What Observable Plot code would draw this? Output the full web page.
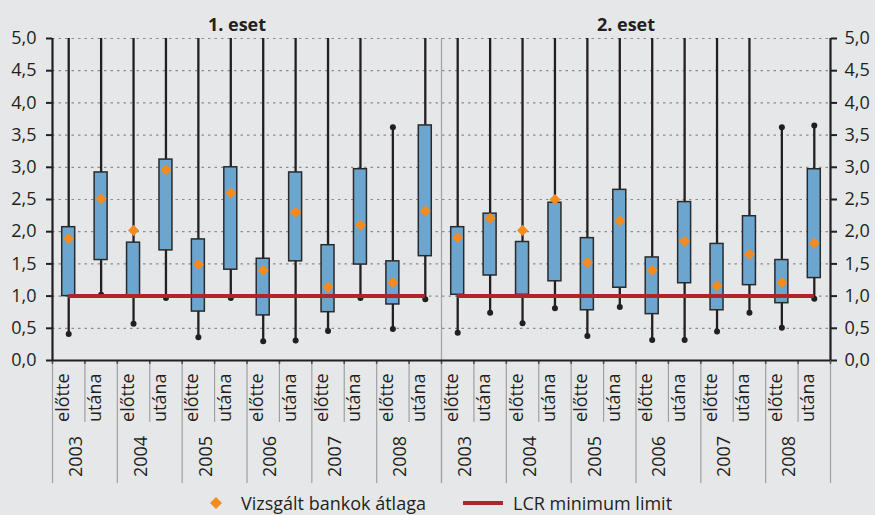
<!DOCTYPE html>
<html>
<head>
<meta charset="utf-8">
<script src="https://cdn.jsdelivr.net/npm/d3@7"></script>
<script src="https://cdn.jsdelivr.net/npm/@observablehq/plot@0.6"></script>
<style>
html, body { margin: 0; padding: 0; background: #e6e7e8; }
#wrap { position: relative; width: 875px; height: 515px; font-family: "Open Sans", sans-serif; color: #231f20; }
#chart svg { display: block; }
.leg { position: absolute; top: 491px; font-size: 18px; line-height: 24px; white-space: nowrap; }
</style>
</head>
<body>
<div id="wrap">
  <div id="chart"></div>
  <div class="leg" style="left:205px"><svg width="22" height="24" style="vertical-align:top"><path d="M11,6 L17,12 L11,18 L5,12Z" fill="#f58a1f"/></svg></div>
  <div class="leg" style="left:241px">Vizsgált bankok átlaga</div>
  <div class="leg" style="left:463px"><svg width="40" height="24" style="vertical-align:top"><rect x="0" y="10" width="40" height="4" fill="#b0242a"/></svg></div>
  <div class="leg" style="left:513px">LCR minimum limit</div>
</div>
<script>
// ---- data ----
const cases = ["1. eset", "2. eset"];
const years = ["2003", "2004", "2005", "2006", "2007", "2008"];
const timings = ["előtte", "utána"];

// order within a case: 2003 előtte, 2003 utána, 2004 előtte, ...
const q3_case1   = [2.07, 2.92, 1.83, 3.12, 1.88, 3.00, 1.58, 2.92, 1.79, 2.97, 1.54, 3.65];
const q1_case1   = [1.00, 1.56, 1.00, 1.71, 0.76, 1.41, 0.70, 1.54, 0.75, 1.49, 0.87, 1.62];
const mean_case1 = [1.89, 2.51, 2.02, 2.96, 1.49, 2.60, 1.40, 2.30, 1.14, 2.10, 1.21, 2.32];
const min_case1  = [0.41, 1.02, 0.57, 0.97, 0.36, 0.97, 0.30, 0.31, 0.46, 0.97, 0.49, 0.95];
const max_case1  = [null, null, null, null, null, null, null, null, null, null, 3.62, null]; // null = beyond 5,0

const q3_case2   = [2.07, 2.28, 1.84, 2.45, 1.90, 2.65, 1.60, 2.46, 1.81, 2.24, 1.56, 2.97];
const q1_case2   = [1.02, 1.32, 1.02, 1.23, 0.78, 1.13, 0.72, 1.20, 0.78, 1.17, 0.89, 1.28];
const mean_case2 = [1.91, 2.21, 2.02, 2.50, 1.52, 2.17, 1.40, 1.85, 1.16, 1.65, 1.21, 1.82];
const min_case2  = [0.43, 0.74, 0.58, 0.81, 0.38, 0.83, 0.32, 0.32, 0.45, 0.74, 0.51, 0.96];
const max_case2  = [null, null, null, null, null, null, null, null, null, null, 3.62, 3.65];

const lcrLimit = 1.0;
const yTickValues = [0, 0.5, 1, 1.5, 2, 2.5, 3, 3.5, 4, 4.5, 5];
const yTickLabels = ["0,0", "0,5", "1,0", "1,5", "2,0", "2,5", "3,0", "3,5", "4,0", "4,5", "5,0"];

// ---- table ----
const series = [
  {q1: q1_case1, q3: q3_case1, mean: mean_case1, min: min_case1, max: max_case1},
  {q1: q1_case2, q3: q3_case2, mean: mean_case2, min: min_case2, max: max_case2}
];
const yMax = yTickValues[yTickValues.length - 1];
const perCase = years.length * timings.length;
const rows = [];
cases.forEach((c, ci) => years.forEach((yr, yi) => timings.forEach((t, ti) => {
  const k = yi * timings.length + ti;
  const idx = ci * perCase + k;
  const s = series[ci];
  rows.push({case: c, year: yr, timing: t, xc: idx + 0.5,
    q1: s.q1[k], q3: s.q3[k], mean: s.mean[k], min: s.min[k], max: s.max[k]});
})));
const yearRows = [];
cases.forEach((c, ci) => years.forEach((yr, yi) => {
  yearRows.push({year: yr, xc: ci * perCase + yi * timings.length + timings.length / 2});
}));
const nCat = cases.length * perCase;
const boundaries = d3.range(nCat + 1);
const yearBounds = boundaries.filter(b => b % timings.length === 0);
const innerBounds = boundaries.filter(b => b % timings.length !== 0);
const lcrRows = cases.map((c, ci) => ({y: lcrLimit, x1: ci * perCase + 0.5, x2: (ci + 1) * perCase - 0.5}));
const titleRows = cases.map((c, ci) => ({title: c, xc: ci * perCase + perCase / 2}));

// ---- layout ----
const W = 875, H = 490, mT = 38, mB = 130, mL = 52, mR = 45;
const frameH = H - mT - mB;
const ink = "#231f20";
const boxFill = "#6ca6cf";
const orange = "#f58a1f";
const red = "#b0242a";
const sepColor = "#a0a0a0";

const chart = Plot.plot({
  width: W, height: H,
  marginTop: mT, marginBottom: mB, marginLeft: mL, marginRight: mR,
  x: {type: "linear", domain: [0, nCat], axis: null},
  y: {domain: [0, yMax], axis: null},
  style: {background: "transparent", fontFamily: "Open Sans", fontSize: "18px", color: ink},
  marks: [
    // dotted gridlines
    Plot.ruleY(yTickValues.filter(v => v > 0), {stroke: "#8c8c8c", strokeWidth: 1.2, strokeDasharray: "2.5,4"}),
    // panel divider
    Plot.ruleX([perCase], {stroke: sepColor, strokeWidth: 1.2, insetBottom: -123}),
    // category separators below axis
    Plot.ruleX(yearBounds, {stroke: sepColor, strokeWidth: 1.2, insetTop: frameH, insetBottom: -123}),
    Plot.ruleX(innerBounds, {stroke: sepColor, strokeWidth: 1.2, insetTop: frameH, insetBottom: -62}),
    Plot.ruleX(boundaries, {stroke: "#555", strokeWidth: 1.6, insetTop: frameH, insetBottom: -4}),
    // whiskers
    Plot.ruleX(rows, {x: "xc", y1: "min", y2: d => d.max ?? yMax, stroke: ink, strokeWidth: 2.3}),
    Plot.dot(rows, {x: "xc", y: "min", r: 3, fill: ink}),
    Plot.dot(rows.filter(d => d.max != null), {x: "xc", y: "max", r: 3, fill: ink}),
    // boxes
    Plot.rect(rows, {x1: d => d.xc - 0.2, x2: d => d.xc + 0.2, y1: "q1", y2: "q3", fill: boxFill, stroke: "#2a2a2a", strokeWidth: 1.5}),
    // LCR line
    Plot.ruleY(lcrRows, {y: "y", x1: "x1", x2: "x2", stroke: red, strokeWidth: 4}),
    // means
    Plot.dot(rows, {x: "xc", y: "mean", symbol: "diamond2", r: 5, fill: orange, stroke: null}),
    // axis lines
    Plot.ruleX([0, nCat], {stroke: ink, strokeWidth: 2.2}),
    Plot.ruleY([0], {stroke: ink, strokeWidth: 2.2}),
    Plot.axisY({anchor: "left", ticks: yTickValues, tickFormat: (d, i) => yTickLabels[i], tickSize: 6, tickPadding: 10, fontSize: 18, strokeWidth: 2, stroke: ink, label: null}),
    Plot.axisY({anchor: "right", ticks: yTickValues, tickFormat: (d, i) => yTickLabels[i], tickSize: 6, tickPadding: 8, fontSize: 18, strokeWidth: 2, stroke: ink, label: null}),
    // x labels
    Plot.text(rows, {x: "xc", text: "timing", frameAnchor: "bottom", rotate: -90, textAnchor: "end", dy: 13, fontSize: 18, fill: ink}),
    Plot.text(yearRows, {x: "xc", text: "year", frameAnchor: "bottom", rotate: -90, textAnchor: "middle", dy: 96, dx: -3, fontSize: 18, fill: ink}),
    // panel titles
    Plot.text(titleRows, {x: "xc", text: "title", frameAnchor: "top", dy: -20, dx: -10, fontSize: 18, fontWeight: "bold", fill: ink})
  ]
});
document.getElementById("chart").appendChild(chart);
</script>
</body>
</html>
